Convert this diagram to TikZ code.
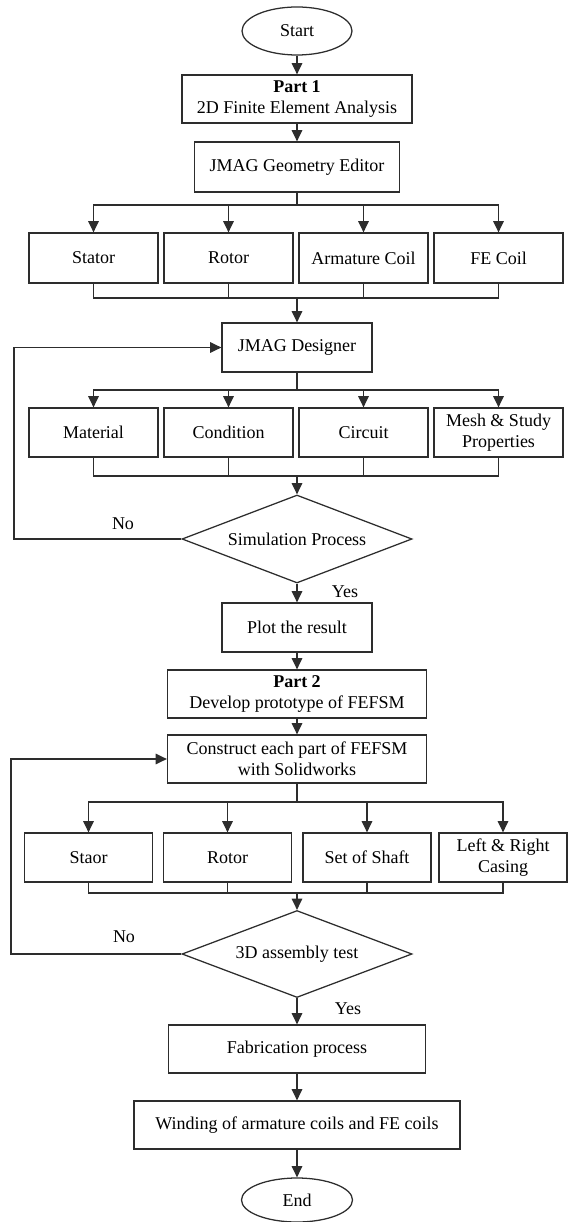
\documentclass[tikz,border=0pt]{standalone}
\usepackage{fontspec}
\setmainfont{Liberation Serif}
\definecolor{flowline}{RGB}{45,45,45}
\usetikzlibrary{shapes.geometric,arrows.meta,positioning}

\tikzset{
  box/.style={draw=flowline,line width=0.9pt,rectangle,align=center,inner sep=2pt,minimum height=1.2cm},
  terminal/.style={draw=flowline,line width=0.9pt,ellipse,inner sep=0pt,minimum width=2.75cm,minimum height=1.2cm},
  decision/.style={draw=flowline,line width=0.9pt,diamond,inner sep=0pt,aspect=2.6,minimum width=5.75cm,minimum height=2.2cm},
  arr/.style={draw=flowline,line width=1pt,-{Triangle[length=8pt,width=7.5pt]}},
  link/.style={draw=flowline,line width=1pt},
}

\begin{document}
\begin{tikzpicture}[font=\fontsize{12.8}{15}\selectfont]
  \useasboundingbox (0,0) rectangle (14.2,-30.55);
  % part 1: finite element analysis
  \node[terminal] (start) at (7.425,-0.775) {Start};
  \node[box,minimum width=5.75cm] (part1) at (7.425,-2.475) {\textbf{Part 1}\\2D Finite Element Analysis};
  \node[box,minimum width=5.125cm,minimum height=1.25cm] (geo) at (7.425,-4.175) {JMAG Geometry Editor};
  \foreach \n/\x/\t in {stator/2.3375/Stator, rotor/5.7125/Rotor, arm/9.0875/Armature Coil, fe/12.4625/FE Coil}
    \node[box,minimum width=3.225cm,minimum height=1.25cm] (\n) at (\x,-6.45) {\t};
  \node[box,minimum width=3.75cm,minimum height=1.225cm] (designer) at (7.425,-8.6875) {JMAG Designer};
  \foreach \n/\x/\t in {mat/2.3375/Material, cond/5.7125/Condition, circ/9.0875/Circuit, mesh/12.4625/{Mesh \& Study\\Properties}}
    \node[box,minimum width=3.225cm,minimum height=1.225cm] (\n) at (\x,-10.8125) {\t};
  \node[decision] (sim) at (7.425,-13.475) {Simulation Process};
  \node (simno) at (3.075,-13.1) {No};
  \node (simyes) at (8.625,-14.8) {Yes};
  \node[box,minimum width=3.75cm,minimum height=1.225cm] (plot) at (7.425,-15.6875) {Plot the result};
  % part 2: prototype
  \node[box,minimum width=6.475cm] (part2) at (7.425,-17.35) {\textbf{Part 2}\\Develop prototype of FEFSM};
  \node[box,minimum width=6.475cm] (build) at (7.425,-18.975) {Construct each part of FEFSM\\with Solidworks};
  \foreach \n/\x/\t in {staor/2.2125/Staor, rotortwo/5.6875/Rotor, shaft/9.175/Set of Shaft, casing/12.575/{Left \& Right\\Casing}}
    \node[box,minimum width=3.2cm,minimum height=1.225cm] (\n) at (\x,-21.4375) {\t};
  \node[decision,minimum height=2.175cm] (test) at (7.425,-23.85) {3D assembly test};
  \node (testno) at (3.1,-23.425) {No};
  \node (testyes) at (8.7,-25.225) {Yes};
  \node[box,minimum width=6.425cm] (fab) at (7.425,-26.225) {Fabrication process};
  \node[box,minimum width=8.15cm] (wind) at (7.425,-28.125) {Winding of armature coils and FE coils};
  \node[terminal,minimum width=2.775cm,minimum height=1.1cm] (end) at (7.425,-30.0) {End};

  % junctions
  \coordinate (b1) at (7.425,-5.125);
  \coordinate (m1) at (7.425,-7.45);
  \coordinate (b2) at (7.425,-9.75);
  \coordinate (m2) at (7.425,-11.9);
  \coordinate (b3) at (7.425,-20.05);
  \coordinate (m3) at (7.425,-22.325);
  \coordinate (loopa) at (0.35,-13.475);
  \coordinate (loopb) at (0.35,-8.6875);
  \coordinate (loopc) at (0.275,-23.85);
  \coordinate (loopd) at (0.275,-18.975);

  % main flow
  \draw[arr] (start) -- (part1);
  \draw[arr] (part1) -- (geo);
  \draw[link] (geo) -- (b1);
  \foreach \n in {stator,rotor,arm,fe} {
    \draw[arr] (b1) -| (\n);
    \draw[link] (\n) |- (m1);
  }
  \draw[arr] (m1) -- (designer);
  \draw[link] (designer) -- (b2);
  \foreach \n in {mat,cond,circ,mesh} {
    \draw[arr] (b2) -| (\n);
    \draw[link] (\n) |- (m2);
  }
  \draw[arr] (m2) -- (sim);
  \draw[arr] (sim) -- (loopa) -- (loopb) -- (designer);
  \draw[arr] (sim) -- (plot);
  \draw[arr] (plot) -- (part2);
  \draw[arr] (part2) -- (build);
  \draw[link] (build) -- (b3);
  \foreach \n in {staor,rotortwo,shaft,casing} {
    \draw[arr] (b3) -| (\n);
    \draw[link] (\n) |- (m3);
  }
  \draw[arr] (m3) -- (test);
  \draw[arr] (test) -- (loopc) -- (loopd) -- (build);
  \draw[arr] (test) -- (fab);
  \draw[arr] (fab) -- (wind);
  \draw[arr] (wind) -- (end);
\end{tikzpicture}
\end{document}
